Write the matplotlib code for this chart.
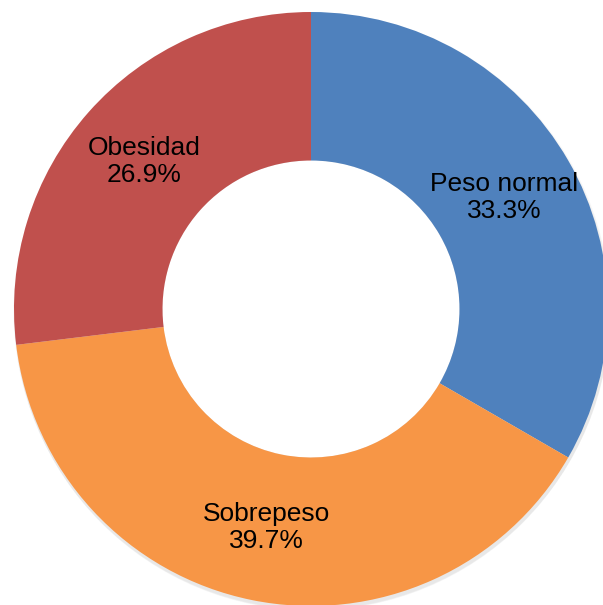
import numpy as np
import matplotlib.pyplot as plt

categorias = ['Peso normal', 'Sobrepeso', 'Obesidad']
porcentajes = [33.3, 39.7, 26.9]
colores = ['#4F81BD', '#F79646', '#C0504D']

W, H = 603, 605
cx, cy = 311, H - 309
R = 297
ancho = 0.5

fig = plt.figure(figsize=(W / 100, H / 100), dpi=100)
ax = fig.add_axes([0, 0, 1, 1])

# sombra suave bajo el anillo (solo en el borde exterior)
for i, a in enumerate([0.05, 0.05, 0.06]):
    sombra = plt.Circle((cx + 1, cy - 2 - i), R + 1.5 - i * 0.5, color='#707070',
                        alpha=a, lw=0, zorder=0.2)
    ax.add_patch(sombra)
ax.add_patch(plt.Circle((cx, cy), R * (1 - ancho), color='white', lw=0, zorder=0.5))

wedges, _ = ax.pie(porcentajes, colors=colores, startangle=90, counterclock=False,
                   radius=R, center=(cx, cy),
                   wedgeprops=dict(width=R * ancho, linewidth=0))

# etiquetas en la mitad del anillo
r_lab = R * (1 - ancho / 2)
for w, cat, p in zip(wedges, categorias, porcentajes):
    ang = np.deg2rad((w.theta1 + w.theta2) / 2)
    x = cx + r_lab * np.cos(ang)
    y = cy + r_lab * np.sin(ang)
    ax.text(x, y, f'{cat}\n{p:.1f}%', ha='center', va='center', fontsize=19,
            family='Liberation Sans', linespacing=1.15)

ax.set_xlim(0, W)
ax.set_ylim(0, H)
ax.set_aspect('equal')
ax.axis('off')
fig.savefig('out.png', dpi=100)
